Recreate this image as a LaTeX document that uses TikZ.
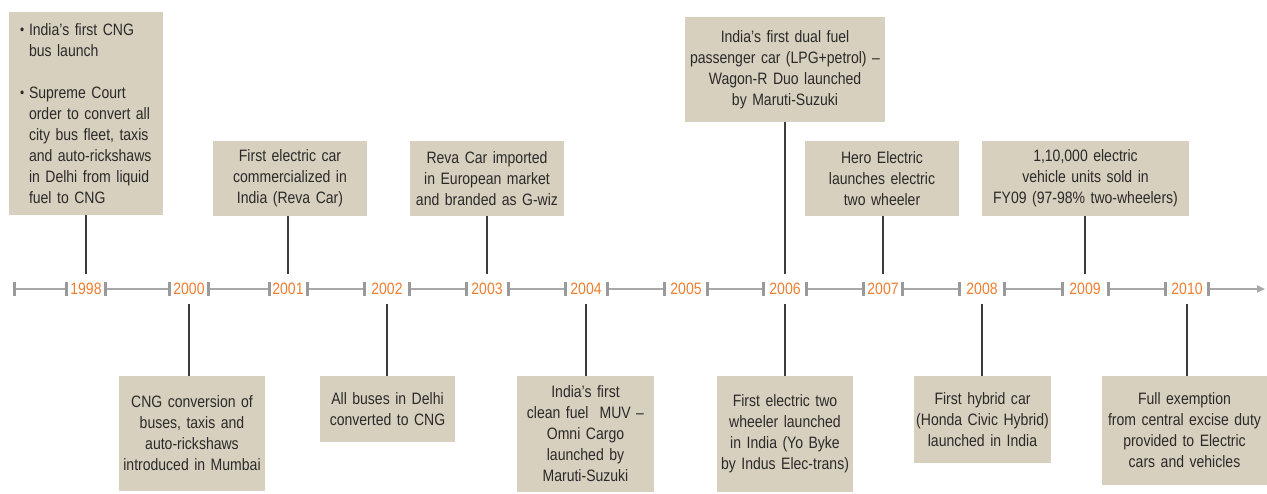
\documentclass[tikz,border=0pt]{standalone}
\usepackage{fontspec}
\setmainfont{Liberation Sans}[FakeStretch=0.85]
\usetikzlibrary{arrows.meta}
\definecolor{boxfill}{HTML}{D8D0BE}
\definecolor{yearor}{HTML}{EE7D30}
\definecolor{axisgray}{HTML}{A8A8A8}
\definecolor{tickgray}{HTML}{9A9A9A}
\definecolor{txt}{HTML}{2A2A2A}
\definecolor{conn}{HTML}{3C3C3C}
\newcommand{\bul}{\makebox[9pt][l]{\raisebox{1pt}{\fontsize{14}{21}\selectfont\textbullet}}}
\begin{document}
\begin{tikzpicture}[x=1pt,y=-1pt,
  evbox/.style n args={2}{fill=boxfill, inner sep=0pt, align=center, text=txt,
    font=\fontsize{16.5}{21}\selectfont, text width=#1, minimum height=#2},
  yearlbl/.style={text=yearor, inner sep=0pt, minimum height=30pt, font=\fontsize{16.5}{21}\selectfont},
  connline/.style={draw=conn, line width=1.3pt},
  axisline/.style={draw=axisgray, line width=2pt},
  tickmark/.style={draw=tickgray, line width=3pt}]
\useasboundingbox (0,0) rectangle (1267,493);

% axis
\foreach \a/\b in {14/66,105/169,208/269,307/364,409/466,508/565,607/664,707/763,806/863,902/959,1004/1062,1108/1165}{
  \draw[axisline] (\a,289) -- (\b,289);
  \draw[tickmark] (\a,282) -- (\a,296);
  \draw[tickmark] (\b,282) -- (\b,296);
}
\draw[axisline,-{Triangle[length=8pt,width=7pt]}] (1208,289) -- (1265,289);
\draw[tickmark] (1208,282) -- (1208,296);

% years
\node[yearlbl] (y98) at (86,289) {1998};
\node[yearlbl] (y00) at (189,289) {2000};
\node[yearlbl] (y01) at (288,289) {2001};
\node[yearlbl] (y02) at (387,289) {2002};
\node[yearlbl] (y03) at (487,289) {2003};
\node[yearlbl] (y04) at (586,289) {2004};
\node[yearlbl] (y05) at (686,289) {2005};
\node[yearlbl] (y06) at (785,289) {2006};
\node[yearlbl] (y07) at (883,289) {2007};
\node[yearlbl] (y08) at (982,289) {2008};
\node[yearlbl] (y09) at (1085,289) {2009};
\node[yearlbl] (y10) at (1187,289) {2010};

% top boxes
\node[evbox={132pt}{203pt}, align=left, inner xsep=11pt] (b98) at (86,113.5)
 {\bul India’s first CNG\\\hspace*{9pt}bus launch\\[21pt]
  \bul Supreme Court\\\hspace*{9pt}order to convert all\\\hspace*{9pt}city bus fleet, taxis\\
  \hspace*{9pt}and auto-rickshaws\\\hspace*{9pt}in Delhi from liquid\\\hspace*{9pt}fuel to CNG};
\node[evbox={154pt}{75pt}] (b01) at (290,178.5) {First electric car\\commercialized in\\India (Reva Car)};
\node[evbox={154pt}{75pt}] (b03) at (487,178.5) {Reva Car imported\\in European market\\and branded as G-wiz};
\node[evbox={200pt}{105pt}] (b06t) at (785,69.5) {India’s first dual fuel\\passenger car (LPG+petrol) –\\Wagon-R Duo launched\\by Maruti-Suzuki};
\node[evbox={154pt}{75pt}] (b07) at (882,178.5) {Hero Electric\\launches electric\\two wheeler};
\node[evbox={207pt}{75pt}] (b09) at (1085.5,178.5) {1,10,000 electric\\vehicle units sold in\\FY09 (97-98\% two-wheelers)};

% bottom boxes
\node[evbox={146pt}{115pt}] (b00) at (192,433.5) {CNG conversion of\\buses, taxis and\\auto-rickshaws\\introduced in Mumbai};
\node[evbox={135pt}{66pt}] (b02) at (387.5,409) {All buses in Delhi\\converted to CNG};
\node[evbox={137pt}{116pt}] (b04) at (585.5,434) {India’s first\\clean fuel\ \ MUV –\\Omni Cargo\\launched by\\Maruti-Suzuki};
\node[evbox={136pt}{116pt}] (b06) at (785,434) {First electric two\\wheeler launched\\in India (Yo Byke\\by Indus Elec-trans)};
\node[evbox={137pt}{87pt}] (b08) at (982.5,419.5) {First hybrid car\\(Honda Civic Hybrid)\\launched in India};
\node[evbox={165pt}{109pt}] (b10) at (1184.5,430.5) {Full exemption\\from central excise duty\\provided to Electric\\cars and vehicles};

% connectors
\foreach \y/\b in {y98/b98,y01/b01,y03/b03,y06/b06t,y07/b07,y09/b09}
  \draw[connline] (\y.north) -- (\y.north |- \b.south);
\foreach \y/\b in {y00/b00,y02/b02,y04/b04,y06/b06,y08/b08,y10/b10}
  \draw[connline] (\y.south) -- (\y.south |- \b.north);
\end{tikzpicture}
\end{document}
